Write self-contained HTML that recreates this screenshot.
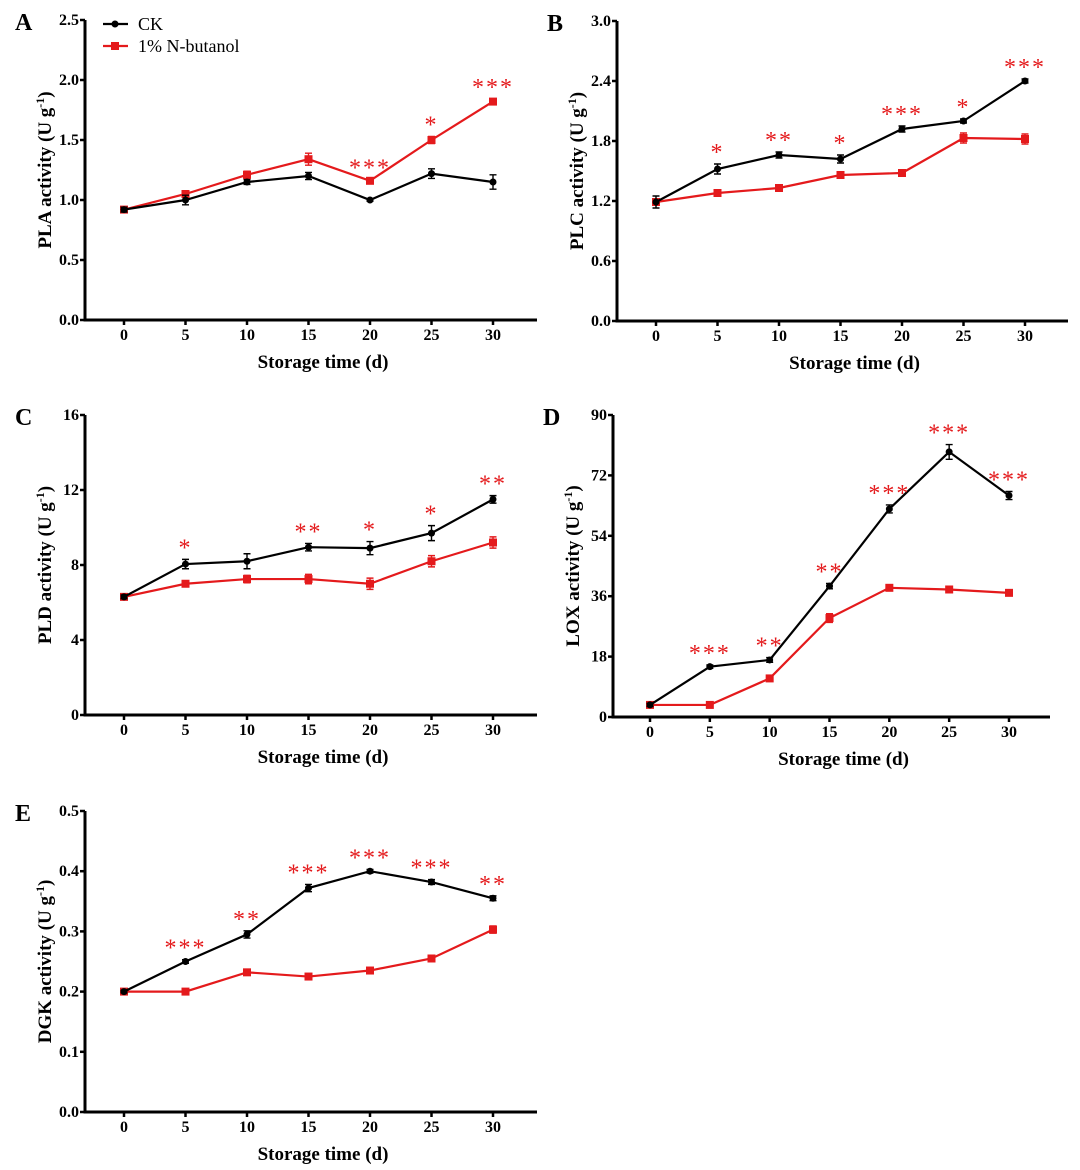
<!DOCTYPE html>
<html><head><meta charset="utf-8"><style>
html,body{margin:0;padding:0;background:#fff;}
svg{display:block;font-family:"Liberation Serif",serif;}
</style></head><body>
<svg id="fig" width="1080" height="1170" viewBox="0 0 1080 1170" xmlns="http://www.w3.org/2000/svg"></svg>
<script>
const days = [0,5,10,15,20,25,30];
const aCK = [0.92,1.0,1.15,1.2,1.0,1.22,1.15];
const aCKerr = [0.02,0.04,0.02,0.03,0.01,0.04,0.06];
const aNB = [0.92,1.05,1.21,1.34,1.16,1.5,1.82];
const aNBerr = [0.02,0.02,0.03,0.05,0.01,0.03,0.02];
const aSig = ["","","","","***","*","***"];
const aTicks = ["0.0","0.5","1.0","1.5","2.0","2.5"];
const bCK = [1.19,1.52,1.66,1.62,1.92,2.0,2.4];
const bCKerr = [0.06,0.05,0.03,0.04,0.03,0.02,0.02];
const bNB = [1.19,1.28,1.33,1.46,1.48,1.83,1.82];
const bNBerr = [0.03,0.02,0.03,0.02,0.02,0.05,0.05];
const bSig = ["","*","**","*","***","*","***"];
const bTicks = ["0.0","0.6","1.2","1.8","2.4","3.0"];
const cCK = [6.3,8.05,8.2,8.95,8.9,9.7,11.5];
const cCKerr = [0.1,0.25,0.4,0.2,0.35,0.4,0.2];
const cNB = [6.3,7.0,7.25,7.25,7.0,8.2,9.2];
const cNBerr = [0.1,0.15,0.2,0.25,0.3,0.3,0.3];
const cSig = ["","*","","**","*","*","**"];
const cTicks = ["0","4","8","12","16"];
const dCK = [3.6,15,17,39,62,79,66];
const dCKerr = [0.5,0.5,0.7,0.8,1.2,2.2,1.2];
const dNB = [3.6,3.6,11.5,29.5,38.5,38,37];
const dNBerr = [0.4,0.4,0.5,1.3,0.5,0.8,0.5];
const dSig = ["","***","**","**","***","***","***"];
const dTicks = ["0","18","36","54","72","90"];
const eCK = [0.2,0.25,0.295,0.372,0.4,0.382,0.355];
const eCKerr = [0.002,0.003,0.006,0.006,0.003,0.004,0.004];
const eNB = [0.2,0.2,0.232,0.225,0.235,0.255,0.303];
const eNBerr = [0.002,0.002,0.003,0.002,0.002,0.003,0.006];
const eSig = ["","***","**","***","***","***","**"];
const eTicks = ["0.0","0.1","0.2","0.3","0.4","0.5"];

const NS="http://www.w3.org/2000/svg";
const svg=document.getElementById('fig');
function el(tag,attrs,parent,text){const e=document.createElementNS(NS,tag);for(const k in attrs)e.setAttribute(k,attrs[k]);if(text!==undefined)e.textContent=text;(parent||svg).appendChild(e);return e;}

function panel(p){
  const g=el('g',{});
  
  
  const ymax=p.max;
  const Y=v=>p.y0-(v/ymax)*(p.y0-p.y1);
  const X=d=>p.x0+(d/30)*(p.x30-p.x0);
  const lt=el('text',{x:p.ax-70,y:p.y1+10,'font-size':24,'font-weight':'bold'},g,p.letter);
  
  
  const ya=el('line',{x1:p.ax,y1:p.y1,x2:p.ax,y2:p.y0+1.5,stroke:'#000','stroke-width':3},g);
  
  
  const xa=el('line',{x1:p.ax-1.5,y1:p.y0,x2:p.xend,y2:p.y0,stroke:'#000','stroke-width':3},g);
  
  
  p.ticks.forEach((t,i)=>{
    const v=ymax*i/(p.ticks.length-1);
    el('line',{x1:p.ax-5,y1:Y(v),x2:p.ax,y2:Y(v),stroke:'#000','stroke-width':2.5},g);
    const tt=el('text',{x:p.ax-6,y:Y(v)+5,'font-size':16,'font-weight':'bold','text-anchor':'end'},g,t);
    
    
  });
  days.forEach(d=>{
    el('line',{x1:X(d),y1:p.y0,x2:X(d),y2:p.y0+5,stroke:'#000','stroke-width':2.5},g);
    const tt=el('text',{x:X(d),y:p.y0+20,'font-size':16,'font-weight':'bold','text-anchor':'middle'},g,String(d));
    
    
  });
  const xt=el('text',{x:(p.ax+p.xend)/2+12,y:p.y0+48,'font-size':19,'font-weight':'bold','text-anchor':'middle'},g,'Storage time (d)');
  
  
  const cy=(p.y0+p.y1)/2;
  const yt=el('text',{transform:`translate(${p.ax-34},${cy}) rotate(-90)`,'font-size':19,'font-weight':'bold','text-anchor':'middle'},g);
  
  
  el('tspan',{},yt,p.name+' activity (U g');
  el('tspan',{'font-size':12,dy:-7},yt,'-1');
  el('tspan',{dy:7},yt,')');
  function series(vals,errs,color,shape,name){
    const sg=el('g',{},g);
    
    
    el('polyline',{points:vals.map((v,i)=>X(days[i])+','+Y(v)).join(' '),fill:'none',stroke:color,'stroke-width':2.2},sg);
    vals.forEach((v,i)=>{
      const x=X(days[i]),yt2=Y(v+errs[i]),yb=Y(v-errs[i]);
      el('path',{d:`M${x},${yt2}V${yb}M${x-3.5},${yt2}H${x+3.5}M${x-3.5},${yb}H${x+3.5}`,stroke:color,'stroke-width':1.4,fill:'none'},sg);
      let m;
      if(shape==='c') m=el('circle',{cx:x,cy:Y(v),r:3.5,fill:color},sg);
      else m=el('rect',{x:x-4,y:Y(v)-4,width:8,height:8,fill:color},sg);
      
      
    });
  }
  series(p.nb,p.nbe,'#e41a1c','s','series-n-butanol');
  series(p.ck,p.cke,'#000','c','series-ck');
  p.sig.forEach((s,i)=>{
    if(!s)return;
    const top=Math.max(p.ck[i]+p.cke[i],p.nb[i]+p.nbe[i]);
    const st=el('text',{x:X(days[i]),y:Y(top)-4,'font-size':24,fill:'#e41a1c','text-anchor':'middle','letter-spacing':2},g,s);
    
    
  });
}
panel({letter:'A',name:'PLA',ax:85,y1:20,y0:320,x0:124,x30:493,xend:537,max:2.5,ticks:aTicks,ck:aCK,cke:aCKerr,nb:aNB,nbe:aNBerr,sig:aSig});
panel({letter:'B',name:'PLC',ax:617,y1:21,y0:321,x0:656,x30:1025,xend:1068,max:3.0,ticks:bTicks,ck:bCK,cke:bCKerr,nb:bNB,nbe:bNBerr,sig:bSig});
panel({letter:'C',name:'PLD',ax:85,y1:415,y0:715,x0:124,x30:493,xend:537,max:16,ticks:cTicks,ck:cCK,cke:cCKerr,nb:cNB,nbe:cNBerr,sig:cSig});
panel({letter:'D',name:'LOX',ax:613,y1:415,y0:717,x0:650,x30:1009,xend:1050,max:90,ticks:dTicks,ck:dCK,cke:dCKerr,nb:dNB,nbe:dNBerr,sig:dSig});
panel({letter:'E',name:'DGK',ax:85,y1:811,y0:1112,x0:124,x30:493,xend:537,max:0.5,ticks:eTicks,ck:eCK,cke:eCKerr,nb:eNB,nbe:eNBerr,sig:eSig});
const lg=el('g',{});


const l1=el('g',{},lg);


el('line',{x1:103,y1:24,x2:128,y2:24,stroke:'#000','stroke-width':2.2},l1);
el('circle',{cx:115,cy:24,r:3.5,fill:'#000'},l1);
el('text',{x:138,y:30,'font-size':18},l1,'CK');
const l2=el('g',{},lg);


el('line',{x1:103,y1:46,x2:128,y2:46,stroke:'#e41a1c','stroke-width':2.2},l2);
el('rect',{x:111,y:42,width:8,height:8,fill:'#e41a1c'},l2);
el('text',{x:138,y:52,'font-size':18},l2,'1% N-butanol');
</script>
</body></html>
